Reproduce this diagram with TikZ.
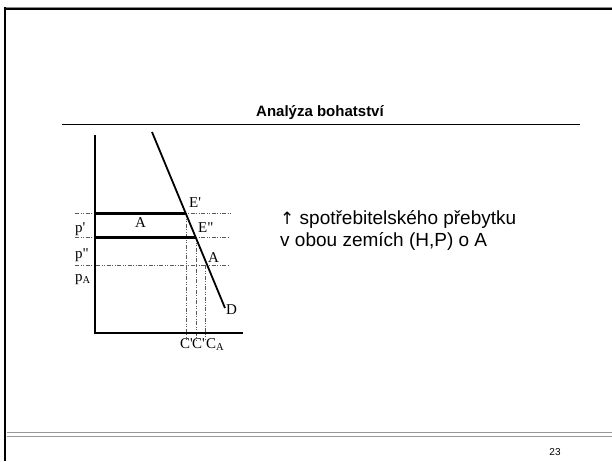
\documentclass[tikz,border=0pt]{standalone}
\usepackage{fontspec}
\setmainfont{Liberation Serif}
\newfontfamily\timesf{Liberation Serif}
\newfontfamily\arialf{Liberation Sans}
\newfontfamily\dejaf{DejaVu Sans}
\begin{document}
\begin{tikzpicture}[x=1pt,y=-1pt,
  axisln/.style={line width=1.8pt,black},
  barln/.style={line width=3pt,black},
  guide/.style={line width=0.8pt,black!65,dash pattern=on 4pt off 1.5pt on 1pt off 1.5pt on 1pt off 1.5pt},
  lbl/.style={font=\timesf\fontsize{15}{15}\selectfont,inner sep=0pt,anchor=base west},
  body/.style={font=\arialf\fontsize{19}{22}\selectfont,inner sep=0pt,anchor=base west}]
\useasboundingbox (0,0) rectangle (612,461);
\fill[white] (0,0) rectangle (612,461);
% frame
\draw[line width=3pt,black!45] (5,8) -- (612,8);
\draw[line width=1.6pt,black] (5,8.7) -- (612,8.7);
\draw[line width=2.2pt,black] (5,7) -- (5,461);
\draw[line width=1pt,black!40] (7,432) -- (612,432);
\draw[line width=1pt,black!40] (7,436) -- (612,436);
\node[font=\arialf\fontsize{10}{10}\selectfont,inner sep=0pt] (pg) at (555,452) {23};
% title
\node[font=\arialf\bfseries\fontsize{15}{18}\selectfont,inner sep=0pt,anchor=base] (title) at (320,116) {Analýza bohatství};
\coordinate (ulA) at (62,124);
\coordinate (ulB) at (580,124);
\draw[line width=1pt] (ulA) -- (ulB);
% chart coordinates
\coordinate (O) at (95,333);
\coordinate (Ytop) at (95,135);
\coordinate (Xend) at (243,333);
\coordinate (Dtop) at (152,132);
\coordinate (Dbot) at (225,308);
\coordinate (E1) at (186,213);
\coordinate (E2) at (196,237);
\coordinate (EA) at (205,265);
\coordinate (Y1) at (95,213);
\coordinate (Y2) at (95,237);
% guides
\draw[guide] (75,213) -- (232,213);
\draw[guide] (75,237) -- (228,237);
\draw[guide] (75,265) -- (228,265);
\draw[guide] (E1) -- (186,340);
\draw[guide] (E2) -- (196,340);
\draw[guide] (EA) -- (205,340);
% axes
\draw[axisln] (Ytop) -- (O) -- (Xend);
% bars
\draw[barln] (Y1) -- (E1);
\draw[barln] (Y2) -- (E2);
% demand
\draw[axisln] (Dtop) -- (Dbot);
% labels
\node[lbl] (lp1) at (75,232) {p'};
\node[lbl] (lp2) at (75,258) {p"};
\node[lbl] (lpA) at (75,281) {p\textsubscript{A}};
\node[lbl] (lA1) at (135,227) {A};
\node[lbl] (lE1) at (189,207) {E'};
\node[lbl] (lE2) at (198,232) {E"};
\node[lbl] (lA2) at (208,262) {A};
\node[lbl] (lD) at (226,314) {D};
\node[lbl] (lC1) at (180,348) {C'};
\node[lbl] (lC2) at (192,348) {C'};
\node[lbl] (lCA) at (206,348) {C\textsubscript{A}};
% text
\node[body] (t1) at (280,224) {{\dejaf\fontsize{17}{17}\selectfont ↑} spotřebitelského přebytku};
\node[body] (t2) at (280,246) {v obou zemích (H,P) o A};
\end{tikzpicture}
\end{document}
